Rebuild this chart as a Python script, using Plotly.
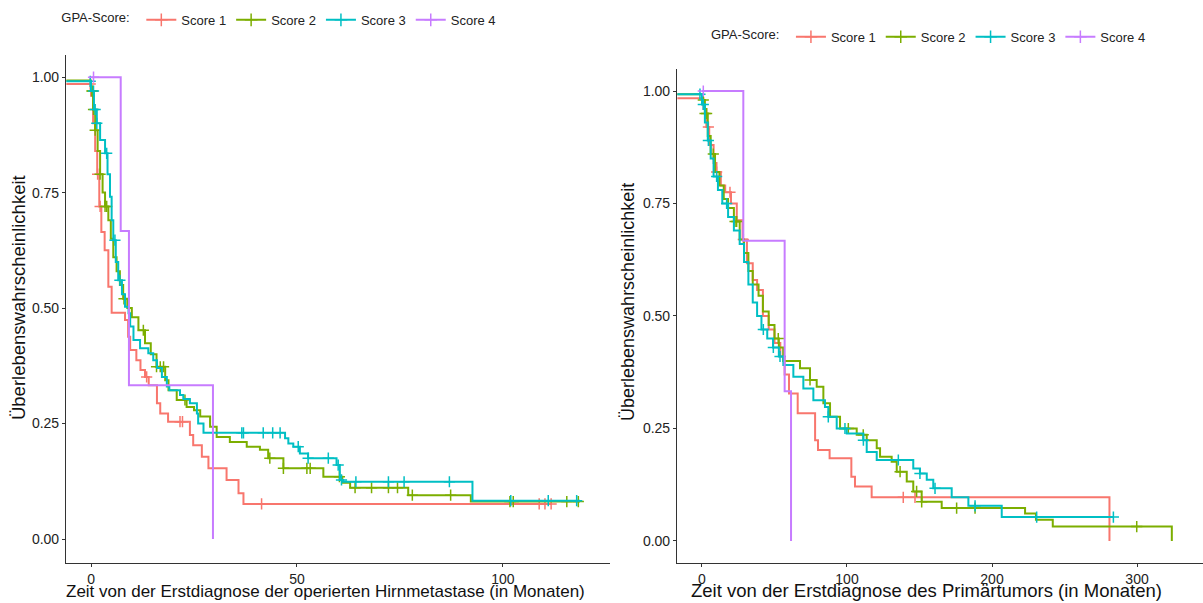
import numpy as np
import plotly.graph_objects as go

groups = ["Score 1", "Score 2", "Score 3", "Score 4"]
colors = ["#F8766D", "#7CAE00", "#00BFC4", "#C77CFF"]

# ---------- Left panel: time from diagnosis of operated brain metastasis ----------
L1_t = [-6, 0, 0.5, 1, 1.5, 2, 2.5, 3.3, 4.2, 5, 8.25, 9.0, 9.5, 11, 12, 13.1, 14, 16, 16.8, 18.7,
        24, 24.8, 26.9, 28.5, 32.9, 35.8, 37, 111.8]
L1_s = [0.985, 0.96, 0.9, 0.84, 0.79, 0.72, 0.665, 0.625, 0.546, 0.49, 0.474, 0.438, 0.409, 0.387, 0.366, 0.351,
        0.333, 0.294, 0.272, 0.254, 0.225, 0.203, 0.178, 0.153, 0.128, 0.099, 0.076, 0.076]
L1_c = [-0.2, 1.6, 2.2, 13.5, 21.6, 22.2, 41.4, 108.8, 110.2, 111.7]

L2_t = [-6, 0, 0.5, 1, 1.6, 2.2, 2.8, 3.4, 4.2, 4.8, 5.4, 6.2, 7, 7.8, 8.8, 9.9, 11.5, 13.1, 14.5, 15.9, 18,
        18.8, 20.8, 23.2, 25, 26.5, 28.9, 30.5, 33.7, 37.8, 41, 43, 46.7, 56.4, 61, 62.9, 77, 92.2, 118.7]
L2_s = [0.993, 0.97, 0.93, 0.885, 0.84, 0.79, 0.75, 0.72, 0.69, 0.65, 0.61, 0.58, 0.55, 0.52, 0.5, 0.48, 0.452,
        0.424, 0.4, 0.373, 0.344, 0.322, 0.301, 0.286, 0.279, 0.265, 0.243, 0.221, 0.21, 0.2, 0.193, 0.175,
        0.153, 0.135, 0.122, 0.111, 0.095, 0.081, 0.081]
L2_c = [0.2, 0.4, 0.6, 1.0, 2.2, 3.4, 3.8, 8.0, 12.7, 15.9, 16.8, 17.6, 22.8, 43.4, 46.7, 52.4, 53.2, 60.3,
        64.1, 68.1, 72.2, 74.4, 78, 87.3, 101.7, 102.5, 115.5, 118.3]

L3_t = [-6, 0, 0.7, 1.4, 2.2, 3.4, 4, 4.6, 5.0, 5.4, 6, 6.6, 7.5, 8.25, 9.1, 9.5, 10.3, 11.9, 13.9, 15.1, 16,
        17.2, 18.4, 19, 21.6, 22.4, 24, 25.7, 26, 27.3, 47.1, 47.9, 49.1, 50.7, 52.7, 59.6, 60.4, 61.2, 92.6, 118.7]
L3_s = [0.991, 0.97, 0.93, 0.9, 0.864, 0.835, 0.79, 0.741, 0.69, 0.647, 0.6, 0.56, 0.53, 0.503, 0.489, 0.46,
        0.431, 0.413, 0.402, 0.387, 0.37, 0.351, 0.33, 0.322, 0.312, 0.303, 0.294, 0.272, 0.25, 0.23, 0.218,
        0.207, 0.2, 0.185, 0.175, 0.16, 0.128, 0.124, 0.083, 0.083]
L3_c = [-0.2, 0.6, 1.0, 1.4, 3.8, 5.8, 7.0, 36.6, 37.0, 41.8, 44.1, 45.9, 50.3, 52.7, 57.6, 60.0, 60.8,
        64.3, 72.2, 76.0, 87.0, 101.9, 111.0, 117.9]

L4_t = [0, 7.2, 9.2, 29.6]
L4_s = [1.0, 0.667, 0.333, 0.0]
L4_c = [0.6]

# ---------- Right panel: time from diagnosis of primary tumour ----------
R1_t = [-17, 1, 3, 5, 8, 10, 13, 16, 20, 24, 28, 31, 35, 38, 42, 46, 50, 54, 57, 60, 66, 78, 80, 88, 103,
        105.5, 117, 281]
R1_s = [0.984, 0.96, 0.92, 0.88, 0.84, 0.82, 0.79, 0.775, 0.75, 0.713, 0.67, 0.617, 0.58, 0.558, 0.5, 0.47,
        0.44, 0.41, 0.37, 0.328, 0.284, 0.224, 0.202, 0.184, 0.143, 0.121, 0.097, 0.0]
R1_c = [4.4, 10.1, 19.3, 28.5, 138.8, 146.9]

R2_t = [-17, 0, 2, 4, 6, 9, 12, 15, 18, 22, 26, 29, 32, 35, 39, 42, 46, 50, 53, 56, 67.6, 74.5, 79.1, 83.7,
        88.3, 95.2, 106.7, 113.6, 120.5, 122.8, 130.8, 134.3, 141.2, 145.7, 151.5, 165.3, 222.8, 230.3,
        241.9, 324]
R2_s = [0.993, 0.98, 0.95, 0.9, 0.86, 0.82, 0.79, 0.76, 0.74, 0.71, 0.67, 0.64, 0.6, 0.57, 0.545, 0.51, 0.48,
        0.45, 0.43, 0.4, 0.384, 0.358, 0.343, 0.306, 0.276, 0.25, 0.236, 0.224, 0.206, 0.187, 0.176, 0.154,
        0.132, 0.11, 0.087, 0.073, 0.061, 0.047, 0.032, 0.0]
R2_c = [0.9, 2.1, 3.2, 7.8, 22.8, 23.9, 52.6, 74.5, 100.9, 111.2, 136.6, 148.0, 151.5, 175.6, 188.3, 299.8]

R3_t = [-17, 0, 2, 4, 6, 8, 11, 14, 18, 22, 26, 29, 32, 35, 38, 41, 45, 49, 53, 56.1, 63, 69.9, 76.8, 84.8,
        87.1, 92.9, 99.8, 111.3, 113.6, 120.5, 145.7, 150.3, 155, 159.5, 172.2, 183.7, 206.7, 283.4]
R3_s = [0.993, 0.97, 0.93, 0.89, 0.85, 0.81, 0.78, 0.75, 0.72, 0.69, 0.66, 0.62, 0.57, 0.53, 0.5, 0.47, 0.45,
        0.43, 0.41, 0.391, 0.365, 0.339, 0.313, 0.298, 0.276, 0.25, 0.239, 0.224, 0.198, 0.18, 0.161, 0.15,
        0.136, 0.117, 0.097, 0.078, 0.053, 0.053]
R3_c = [-1.4, 0.9, 4.4, 10.1, 17.0, 42.3, 49.2, 53.8, 87.1, 98.6, 111.3, 135.4, 150.3, 160.7, 188.3,
        230.8, 283.7]

R4_t = [0, 28.5, 57.0, 61.4]
R4_s = [1.0, 0.667, 0.333, 0.0]
R4_c = [0.9]

LEFT = [(L1_t, L1_s, L1_c), (L2_t, L2_s, L2_c), (L3_t, L3_s, L3_c), (L4_t, L4_s, L4_c)]
RIGHT = [(R1_t, R1_s, R1_c), (R2_t, R2_s, R2_c), (R3_t, R3_s, R3_c), (R4_t, R4_s, R4_c)]

Y_TITLE = "Überlebenswahrscheinlichkeit"
X_TITLE_LEFT = "Zeit von der Erstdiagnose der operierten Hirnmetastase (in Monaten)"
X_TITLE_RIGHT = "Zeit von der Erstdiagnose des Primärtumors (in Monaten)"


def surv_at(t, s, c):
    t = np.asarray(t, float)
    s = np.asarray(s, float)
    idx = np.searchsorted(t, np.asarray(c, float), side="right") - 1
    idx = np.clip(idx, 0, len(s) - 1)
    return s[idx]


fig = go.Figure()

for panel, (data, xa, ya, leg) in enumerate([(LEFT, "x", "y", "legend"), (RIGHT, "x2", "y2", "legend2")]):
    for g, (t, s, c) in enumerate(data):
        col = colors[g]
        fig.add_trace(go.Scatter(x=t, y=s, mode="lines", line=dict(color=col, width=2, shape="hv"),
                                 xaxis=xa, yaxis=ya, showlegend=False, hoverinfo="skip"))
        fig.add_trace(go.Scatter(x=c, y=surv_at(t, s, c), mode="markers",
                                 marker=dict(symbol="cross-thin", size=8, line=dict(color=col, width=1.5)),
                                 xaxis=xa, yaxis=ya, showlegend=False, hoverinfo="skip"))
    for g, name in enumerate(groups):
        fig.add_trace(go.Scatter(x=[None], y=[None], mode="lines+markers", name=name,
                                 line=dict(color=colors[g], width=2),
                                 marker=dict(symbol="cross-thin", size=9, line=dict(color=colors[g], width=1.5)),
                                 xaxis=xa, yaxis=ya, legend=leg, showlegend=True))

axis_common = dict(showgrid=False, zeroline=False, showline=True, linecolor="#333333", linewidth=1.2,
                   ticks="outside", ticklen=3, tickwidth=1, tickcolor="#333333",
                   tickfont=dict(family="Liberation Sans, Arial", size=14, color="#222222"), mirror=False)

title_font = dict(family="Liberation Sans, Arial", color="#111111")

fig.update_layout(
    width=1203, height=603,
    margin=dict(l=0, r=0, t=0, b=0),
    paper_bgcolor="white", plot_bgcolor="white",
    font=dict(family="Liberation Sans, Arial", color="#222222"),
    xaxis=dict(domain=[0.0549, 0.5071], range=[-6.07, 126], tickvals=[0, 50, 100],
               anchor="y", **axis_common),
    yaxis=dict(domain=[0.0663, 0.9088], range=[-0.052, 1.048], tickvals=[0, 0.25, 0.5, 0.75, 1.0],
               ticktext=["0.00", "0.25", "0.50", "0.75", "1.00"],
               anchor="x", **axis_common),
    xaxis2=dict(domain=[0.5628, 1.0], range=[-17.2, 345.5], tickvals=[0, 100, 200, 300],
                anchor="y2", **axis_common),
    yaxis2=dict(domain=[0.0663, 0.8864], range=[-0.049, 1.05], tickvals=[0, 0.25, 0.5, 0.75, 1.0],
                ticktext=["0.00", "0.25", "0.50", "0.75", "1.00"],
                anchor="x2", **axis_common),
    legend=dict(orientation="h", x=0.233, y=0.967, xanchor="center", yanchor="middle",
                title=dict(text="GPA-Score: ", font=dict(size=13, color="#222222")),
                font=dict(size=13, color="#222222"), bgcolor="rgba(0,0,0,0)", itemwidth=30,
                tracegroupgap=0),
    legend2=dict(orientation="h", x=0.773, y=0.939, xanchor="center", yanchor="middle",
                 title=dict(text="GPA-Score: ", font=dict(size=13, color="#222222")),
                 font=dict(size=13, color="#222222"), bgcolor="rgba(0,0,0,0)", itemwidth=30,
                 tracegroupgap=0),
    annotations=[
        dict(text=X_TITLE_LEFT, xref="paper", yref="paper", x=0.2702, y=0.0, xanchor="center",
             yanchor="bottom", showarrow=False, font=dict(size=17, **title_font)),
        dict(text=X_TITLE_RIGHT, xref="paper", yref="paper", x=0.7698, y=0.0, xanchor="center",
             yanchor="bottom", showarrow=False, font=dict(size=18.5, **title_font)),
        dict(text=Y_TITLE, xref="paper", yref="paper", x=0.015, y=0.5058, xanchor="center",
             yanchor="middle", textangle=-90, showarrow=False, font=dict(size=18.5, **title_font)),
        dict(text=Y_TITLE, xref="paper", yref="paper", x=0.522, y=0.4992, xanchor="center",
             yanchor="middle", textangle=-90, showarrow=False, font=dict(size=18, **title_font)),
    ],
)

fig.write_html("out.html")
